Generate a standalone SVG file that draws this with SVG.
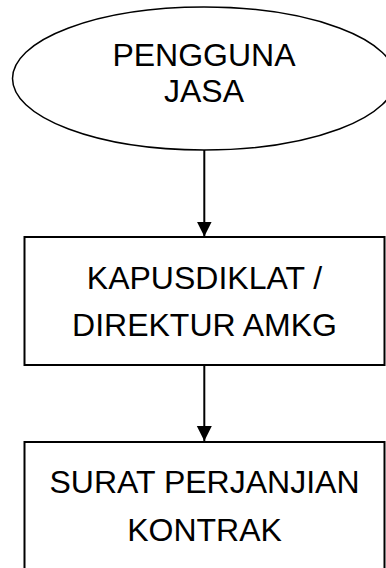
<svg xmlns="http://www.w3.org/2000/svg" width="386" height="568" viewBox="0 0 386 568">
  <style>
    .shape { fill: #ffffff; stroke: #000000; }
    .lbl { font-family: "Liberation Sans", Arial, sans-serif; font-size: 32px; fill: #000000; text-anchor: middle; }
    .conn { stroke: #000000; stroke-width: 2; fill: none; }
  </style>
  <defs>
    <marker id="arrow" markerUnits="userSpaceOnUse" markerWidth="16" markerHeight="16" refX="15" refY="7.5" orient="auto">
      <path d="M0,0 L15,7.5 L0,15 Z" fill="#000000"/>
    </marker>
  </defs>
  <rect width="386" height="568" fill="#ffffff"/>
  <g id="node-pengguna-jasa">
    <ellipse class="shape" cx="204" cy="78.5" rx="191.5" ry="71.5" stroke-width="1.5"/>
    <text class="lbl" x="204" y="66">PENGGUNA</text>
    <text class="lbl" x="204" y="102">JASA</text>
  </g>
  <g id="node-kapusdiklat">
    <rect class="shape" x="24.5" y="237" width="360" height="128" stroke-width="2"/>
    <text class="lbl" x="204.5" y="289">KAPUSDIKLAT /</text>
    <text class="lbl" x="204.5" y="336">DIREKTUR AMKG</text>
  </g>
  <g id="node-surat">
    <rect class="shape" x="24.5" y="442" width="360" height="140" stroke-width="2"/>
    <text class="lbl" x="204.5" y="492.5">SURAT PERJANJIAN</text>
    <text class="lbl" x="204.5" y="540.5">KONTRAK</text>
  </g>
  <g id="connectors">
    <line class="conn" x1="204.3" y1="150" x2="204.3" y2="236.5" marker-end="url(#arrow)"/>
    <line class="conn" x1="204.3" y1="365" x2="204.3" y2="441" marker-end="url(#arrow)"/>
  </g>
</svg>
